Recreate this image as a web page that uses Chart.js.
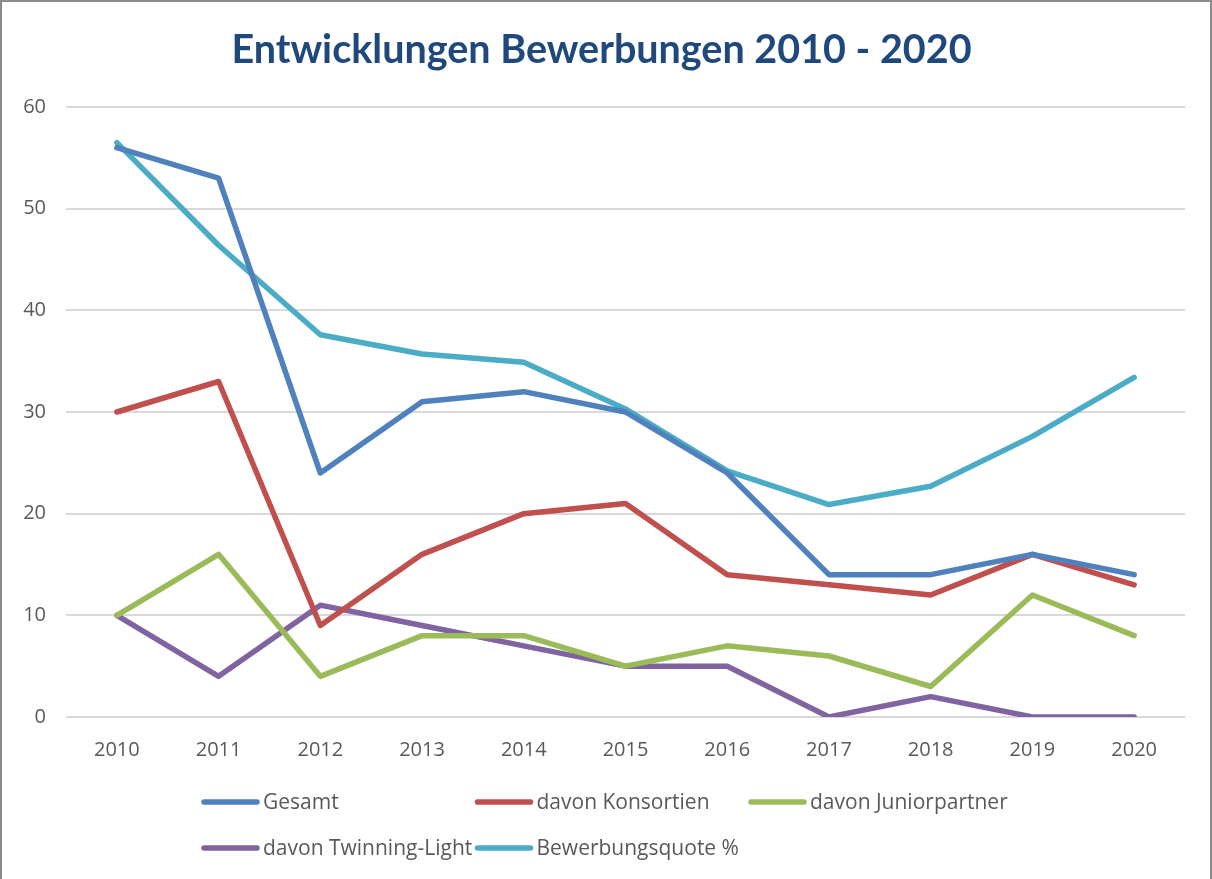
<!DOCTYPE html>
<html>
<head>
<meta charset="utf-8">
<script src="https://cdn.jsdelivr.net/npm/chart.js@4.4.1/dist/chart.umd.min.js"></script>
<style>
  html, body { margin: 0; padding: 0; background: #fff; }
  #wrap { position: relative; width: 1212px; height: 879px; }
  #c { position: absolute; left: 0; top: 0; }
  #frame { position: absolute; left: 0; top: 0; width: 1212px; height: 879px; box-sizing: border-box;
           border-left: 2px solid #8c8c8c; border-top: 2px solid #8c8c8c; border-right: 2px solid #8c8c8c; pointer-events: none; }
</style>
</head>
<body>
<div id="wrap">
  <canvas id="c" width="1212" height="879"></canvas>
  <div id="frame"></div>
</div>
<script>
const categories = ['2010','2011','2012','2013','2014','2015','2016','2017','2018','2019','2020'];
const gesamt        = [56, 53, 24, 31, 32, 30, 24, 14, 14, 16, 14];
const konsortien    = [30, 33, 9, 16, 20, 21, 14, 13, 12, 16, 13];
const juniorpartner = [10, 16, 4, 8, 8, 5, 7, 6, 3, 12, 8];
const twinningLight = [10, 4, 11, 9, 7, 5, 5, 0, 2, 0, 0];
const quote         = [56.5, 46.4, 37.6, 35.7, 34.9, 30.3, 24.2, 20.9, 22.7, 27.6, 33.4];
const seriesNames = ['Gesamt', 'davon Konsortien', 'davon Juniorpartner', 'davon Twinning-Light', 'Bewerbungsquote %'];
const yTicks = [0, 10, 20, 30, 40, 50, 60];
const titleText = 'Entwicklungen Bewerbungen 2010 - 2020';

const colors = ['#4F81BD', '#C0504D', '#9BBB59', '#8064A2', '#4BACC6'];
const seriesData = [gesamt, konsortien, juniorpartner, twinningLight, quote];

const FONT = "'Open Sans', 'Liberation Sans', sans-serif";

const gridLegend = {
  id: 'gridLegend',
  afterDraw(chart) {
    const ctx = chart.ctx;
    ctx.save();
    ctx.font = "21px " + FONT;
    ctx.textBaseline = 'middle';
    ctx.textAlign = 'left';
    chart.data.datasets.forEach((ds, i) => {
      const col = i % 3, row = Math.floor(i / 3);
      const x0 = 204 + col * 273.5;
      const y = 802 + row * 46;
      ctx.strokeStyle = ds.borderColor;
      ctx.lineWidth = 5.5;
      ctx.lineCap = 'round';
      ctx.beginPath();
      ctx.moveTo(x0, y);
      ctx.lineTo(x0 + 53, y);
      ctx.stroke();
      ctx.fillStyle = '#595959';
      ctx.fillText(ds.label, x0 + 59, y + 1);
    });
    ctx.restore();
  }
};

new Chart(document.getElementById('c'), {
  type: 'line',
  data: {
    labels: categories,
    datasets: seriesNames.map((name, i) => ({
      label: name,
      data: seriesData[i],
      borderColor: colors[i],
      backgroundColor: colors[i],
      borderWidth: 5.5,
      pointRadius: 0,
      pointHoverRadius: 0,
      borderCapStyle: 'round',
      borderJoinStyle: 'round',
      tension: 0,
      fill: false
    }))
  },
  options: {
    responsive: false,
    animation: false,
    devicePixelRatio: 1,
    layout: { padding: { left: 18, right: 27, top: 0, bottom: 118 } },
    plugins: {
      legend: { display: false },
      tooltip: { enabled: false },
      title: {
        display: true,
        text: titleText,
        color: '#1F497D',
        font: { family: "Lato, 'Open Sans', sans-serif", size: 39.5, weight: 'bold', lineHeight: 1.2 },
        padding: { top: 27, bottom: 32.6 }
      }
    },
    scales: {
      x: {
        offset: true,
        grid: { display: false, drawTicks: false },
        border: { display: false },
        ticks: { color: '#595959', font: { family: FONT, size: 20 }, padding: 21, maxRotation: 0 },
        afterFit(scale) { scale.height = 44; }
      },
      y: {
        min: 0, max: 60,
        afterBuildTicks(scale) { scale.ticks = yTicks.map(v => ({ value: v })); },
        grid: { color: '#d9d9d9', lineWidth: 2, drawTicks: false },
        border: { display: false },
        ticks: { color: '#595959', font: { family: FONT, size: 20 }, padding: 20 },
        afterFit(scale) { scale.width = 48; }
      }
    }
  },
  plugins: [gridLegend]
});
</script>
</body>
</html>
